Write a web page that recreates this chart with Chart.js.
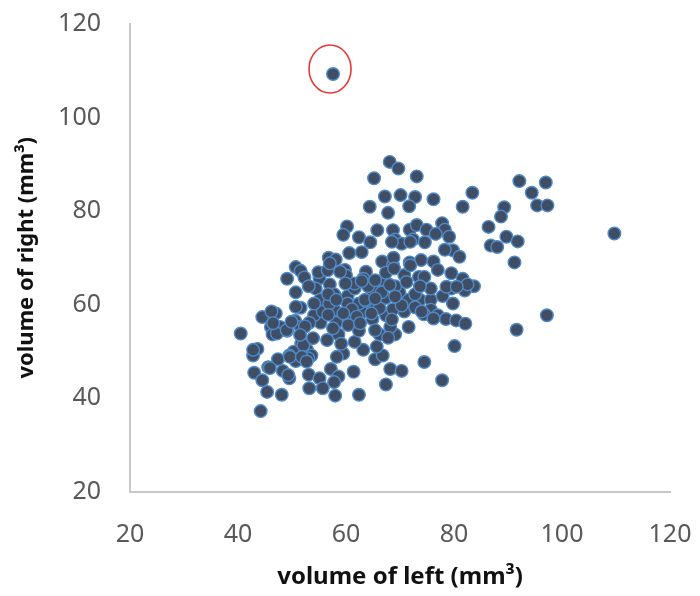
<!DOCTYPE html>
<html>
<head>
<meta charset="utf-8">
<script src="https://cdn.jsdelivr.net/npm/chart.js@4"></script>
<style>
  html, body { margin: 0; padding: 0; background: #fff; }
  #wrap { width: 700px; height: 596px; }
</style>
</head>
<body>
<div id="wrap"><canvas id="scatter"></canvas></div>
<script>
// volume of left / right (mm3); first point is the circled outlier
const volLeft = [
  57.6, 109.7,
  68.1, 69.7, 73.1, 65.2, 92.1, 97.0, 83.4, 94.4, 67.2, 70.1, 72.8, 76.2, 81.6, 95.4, 97.3, 64.4, 71.7, 67.8,
  89.3, 88.7, 86.4, 89.7, 91.8, 86.8, 88.0, 91.2,
  60.2, 59.5, 62.4, 65.8, 68.7, 71.8, 73.1, 74.9, 77.8, 78.3, 79.1, 64.5, 69.1, 70.3, 72.4, 74.6, 76.6,
  62.9, 60.6, 56.8, 58.1, 66.7, 68.7, 68.8, 71.8, 73.9, 76.2, 79.8, 81.0, 59.8, 50.7, 51.6, 52.3, 49.1,
  63.7, 63.2, 60.0, 65.9, 67.2, 70.8, 73.5, 77.0, 79.5, 81.6, 83.7, 79.5, 74.5, 55.1, 54.4, 53.1, 55.2,
  57.0, 57.8, 60.3, 61.6, 64.9, 67.3, 69.9, 71.6, 73.7, 75.7, 77.9, 82.0, 82.5, 79.8, 75.7, 74.4, 77.0,
  78.5, 80.4, 82.1, 97.2, 91.6, 80.1, 74.5, 77.8, 68.2, 70.3, 67.4, 65.4, 66.8, 63.2, 59.5, 61.6, 62.4,
  66.2, 69.1, 71.6, 68.2, 64.9, 67.4, 70.8, 63.4, 60.7, 58.2, 58.6, 56.5, 59.1, 55.3, 54.1, 53.2, 55.7,
  57.9, 56.9, 60.3, 62.4, 64.9, 54.1, 51.6, 50.7, 47.0, 44.5, 46.1, 47.8, 49.1, 50.6, 51.6, 46.4, 40.5,
  51.7, 52.8, 53.6, 50.3, 50.7, 49.5, 47.4, 43.6, 42.8, 45.6, 48.3, 49.5, 43.0, 44.5, 45.4, 48.1, 53.1,
  55.1, 53.2, 55.7, 57.2, 58.6, 58.0, 57.8, 61.4, 62.4, 44.2,
  56.7, 58.2, 61.1, 63.7, 66.2, 68.7, 70.3, 72.8, 72.8, 75.7, 66.6, 64.1, 69.1, 71.2, 67.4, 73.7, 50.7,
  54.9, 56.6, 61.6, 59.9, 46.2, 42.8, 45.9, 47.2, 49.0, 46.5, 52.1, 53.0, 49.6,
  57.0, 58.9, 62.9, 65.4, 63.5, 65.4, 56.7, 59.5, 62.0, 64.7, 49.9, 52.4, 57.6, 60.4, 62.6, 65.4, 51.5,
  53.9, 65.7, 51.8, 52.7, 58.3, 49.3, 68.5, 71.9, 78.3, 71.9, 68.9, 78.6, 80.5, 68.1, 69.1, 74.0, 76.2,
  68.5, 67.8
];
const volRight = [
  109.3, 75.2,
  90.5, 89.1, 87.4, 87.0, 86.4, 86.1, 83.9, 83.9, 83.1, 83.4, 83.0, 82.5, 80.9, 81.2, 81.2, 80.9, 81.0, 79.6,
  80.8, 78.8, 76.6, 74.5, 73.5, 72.6, 72.3, 69.0,
  76.7, 74.9, 74.4, 75.9, 75.9, 76.0, 77.0, 76.0, 77.4, 76.0, 74.5, 73.3, 73.9, 73.0, 73.9, 73.3, 75.1,
  71.2, 71.0, 70.0, 69.6, 69.2, 68.4, 70.0, 69.0, 69.5, 69.2, 71.6, 70.2, 67.4, 68.0, 67.2, 65.8, 65.5,
  67.0, 65.5, 66.2, 64.7, 65.1, 66.3, 65.9, 67.4, 66.7, 65.5, 63.9, 63.4, 65.9, 65.6, 63.4, 63.9, 61.0,
  64.3, 62.2, 61.8, 63.4, 63.0, 61.4, 62.6, 61.0, 61.0, 61.0, 61.8, 63.0, 64.3, 60.2, 58.9, 57.9, 57.7,
  56.9, 56.6, 55.9, 57.7, 54.6, 51.1, 47.7, 43.8, 46.2, 45.8, 42.9, 48.3, 49.1, 50.3, 49.5, 52.0, 54.4,
  53.6, 53.6, 55.2, 55.2, 56.9, 57.7, 58.5, 58.5, 57.3, 56.1, 53.6, 52.4, 51.6, 56.1, 57.7, 56.1, 58.5,
  58.9, 60.2, 60.2, 60.2, 59.8, 60.2, 59.3, 59.5, 58.1, 57.3, 55.2, 55.2, 54.4, 56.5, 55.2, 53.6, 53.8,
  51.6, 50.3, 49.1, 49.9, 47.9, 49.1, 48.3, 50.5, 49.1, 46.6, 45.8, 44.2, 45.4, 43.8, 41.3, 40.7, 45.0,
  44.2, 42.1, 42.1, 46.2, 44.6, 40.5, 43.4, 45.6, 40.7, 37.2,
  62.2, 61.0, 59.0, 60.8, 59.2, 59.0, 59.8, 59.4, 62.2, 63.4, 62.6, 63.9, 63.9, 64.8, 66.8, 63.9, 62.6,
  66.9, 67.3, 64.5, 64.5, 58.5, 50.3, 46.4, 53.8, 54.5, 56.0, 51.3, 48.5, 48.8,
  68.8, 67.0, 65.0, 65.2, 61.0, 61.3, 57.8, 58.1, 57.4, 58.1, 56.3, 55.3, 54.9, 55.6, 56.0, 54.5, 53.5,
  52.8, 51.0, 48.8, 47.8, 48.8, 44.9, 73.4, 73.4, 71.7, 68.4, 67.7, 63.8, 63.8, 64.2, 61.7, 58.5, 57.0,
  56.8, 52.9
];
const outlierIndex = 0;
const tickValues = [20, 40, 60, 80, 100, 120];

const puntos = volLeft.map((x, i) => ({ x: x, y: volRight[i] }));

// circulo rojo alrededor del punto atipico
const circuloOutlier = {
  id: "circuloOutlier",
  afterDatasetsDraw(chart) {
    const { ctx, scales } = chart;
    const cx = scales.x.getPixelForValue(volLeft[outlierIndex]) - 3;
    const cy = scales.y.getPixelForValue(volRight[outlierIndex]) - 5;
    ctx.save();
    ctx.beginPath();
    ctx.ellipse(cx, cy, 21, 24, 0, 0, Math.PI * 2);
    ctx.strokeStyle = "#E53935";
    ctx.lineWidth = 1.6;
    ctx.stroke();
    ctx.restore();
  }
};

const tickFont = { family: "'Noto Sans', sans-serif", size: 25 };

new Chart(document.getElementById("scatter").getContext("2d"), {
  type: "scatter",
  data: {
    datasets: [{
      data: puntos,
      backgroundColor: "#3F4E65",
      borderColor: "#4F8AC9",
      borderWidth: 1.4,
      pointRadius: 6.3,
      pointHoverRadius: 6.3
    }]
  },
  options: {
    responsive: true,
    maintainAspectRatio: false,
    animation: false,
    layout: { padding: { top: 24, right: 30, left: 0, bottom: 0 } },
    plugins: { legend: { display: false }, tooltip: { enabled: false } },
    scales: {
      x: {
        type: "linear",
        min: 20,
        max: 120,
        afterBuildTicks: s => { s.ticks = tickValues.map(v => ({ value: v })); },
        // tamaño fijo del eje, sin relleno extra por las etiquetas
        afterFit: s => { s.height = 104.5; s.paddingLeft = 0; s.paddingRight = 0; },
        grid: { display: false, drawTicks: false },
        border: { color: "#C8C8C8", width: 2 },
        ticks: { color: "#595959", font: tickFont, padding: 28 },
        title: {
          display: true,
          text: "volume of left (mm³)",
          color: "#111",
          font: { family: "'Noto Sans', sans-serif", size: 24, weight: "bold" },
          padding: { top: 0, bottom: 4 }
        }
      },
      y: {
        type: "linear",
        min: 20,
        max: 120,
        afterBuildTicks: s => { s.ticks = tickValues.map(v => ({ value: v })); },
        afterFit: s => { s.width = 130; s.paddingTop = 0; s.paddingBottom = 0; },
        grid: { display: false, drawTicks: false },
        border: { color: "#C8C8C8", width: 2 },
        ticks: { color: "#595959", font: tickFont, padding: 29 },
        title: {
          display: true,
          text: "volume of right (mm³)",
          color: "#111",
          font: { family: "'Noto Sans', sans-serif", size: 22, weight: "bold" },
          padding: { top: 14, bottom: 0 }
        }
      }
    }
  },
  plugins: [circuloOutlier]
});
</script>
</body>
</html>
